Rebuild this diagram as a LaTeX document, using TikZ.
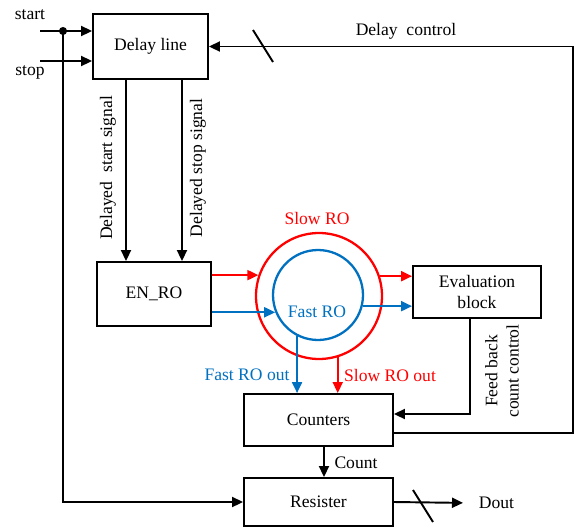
\documentclass[tikz,border=0pt]{standalone}
\usepackage{fontspec}
\setmainfont{Liberation Serif}
\usetikzlibrary{positioning, arrows.meta}
\definecolor{roblue}{RGB}{0,112,192}
\definecolor{rored}{RGB}{255,0,0}

\begin{document}
\begin{tikzpicture}[x=0.02cm, y=-0.02cm, line width=1.1pt, font=\fontsize{10}{12}\selectfont]
    \tikzset{
      block/.style={
        rectangle, draw=black, line width=1.1pt,
        align=center, inner sep=0pt
      },
      ring/.style={circle, draw, line width=1.3pt, inner sep=0pt},
      arr/.style={-{Triangle[length=2.2mm,width=2mm]}},
      lbl/.style={inner sep=1pt}
    }
    \useasboundingbox (0,0) rectangle (575,528);

    % Blocks
    \node[block, minimum width=2.3cm, minimum height=1.3cm] (dline) at (150.5,46.5) {Delay line};
    \node[block, minimum width=2.28cm, minimum height=1.28cm] (enro) at (154,294) {EN\_RO};
    \node[block, minimum width=2.56cm, minimum height=1.04cm] (eval) at (477,292) {Evaluation\\block};
    \node[block, minimum width=2.98cm, minimum height=1.04cm] (count) at (318.5,420) {Counters};
    \node[block, minimum width=2.98cm, minimum height=0.96cm] (reg) at (318.5,502) {Resister};

    % Ring oscillators
    \node[ring, draw=rored, minimum size=2.52cm] (slow) at (319,296) {};
    \node[ring, draw=roblue, minimum size=1.8cm] (fast) at (318,295) {};
    \node[lbl, text=rored] (slowlbl) at (317,218) {Slow RO};
    \node[lbl, text=roblue] (fastlbl) at (317,312) {Fast RO};

    % Inputs
    \coordinate (startin) at (40,31);
    \coordinate (stopin) at (40,61);
    \coordinate (tap) at (63,31);
    \node[lbl] (startlbl) at (30,15) {start};
    \node[lbl] (stoplbl) at (30,72) {stop};
    \draw[arr] (startin) -- (startin -| dline.west);
    \draw[arr] (stopin) -- (stopin -| dline.west);
    \fill (tap) circle (2.3pt);
    \draw[arr] (tap) |- (reg.west);

    % Delayed signals
    \draw[arr] ([xshift=-0.49cm]dline.south) -- ([xshift=-0.49cm]dline.south |- enro.north);
    \draw[arr] ([xshift=0.63cm]dline.south) -- ([xshift=0.63cm]dline.south |- enro.north);
    \node[lbl, rotate=90] (dstart) at (108,168) {Delayed\ \ start signal};
    \node[lbl, rotate=90] (dstop) at (198,168) {Delayed stop signal};

    % Into and out of the rings
    \draw[arr, rored] (enro.east |- slow.161.5) -- (slow.161.5);
    \draw[arr, roblue] (enro.east |- fast.202) -- (fast.202);
    \draw[arr, rored] (slow.18.5) -- (slow.18.5 -| eval.west);
    \draw[arr, roblue] (fast.-14) -- (fast.-14 -| eval.west);
    \draw[arr, roblue] (fast.243.6) -- (fast.243.6 |- count.north);
    \draw[arr, rored] (slow.287.6) -- (slow.287.6 |- count.north);
    \node[lbl, text=roblue] (fastout) at (247,375) {Fast RO out};
    \node[lbl, text=rored] (slowout) at (390,375) {Slow RO out};

    % Feedback and delay control
    \draw[arr] ([xshift=-0.14cm]eval.south) |- ([yshift=0.12cm]count.east);
    \node[lbl, rotate=90, align=center] (fblbl) at (502,371) {Feed back\\count control};
    \coordinate (ctrl) at (573,46.5);
    \draw[arr] ([yshift=-0.26cm]count.east) -| (ctrl) -- (dline.east);
    \draw (263,46) +(-10,-16) -- +(10,16);
    \node[lbl] (ctrllbl) at (406,31) {Delay\ \ control};

    % Output
    \draw[arr] ([xshift=0.11cm]count.south) -- ([xshift=0.11cm]count.south |- reg.north);
    \node[lbl] (cntlbl) at (356,463) {Count};
    \node[anchor=west] (dout) at (472,503) {Dout};
    \draw[arr, shorten >=0.18cm] (reg.east) -- (dout.west);
    \draw (423,506) +(-10,-16) -- +(10,16);
  \end{tikzpicture}
\end{document}
